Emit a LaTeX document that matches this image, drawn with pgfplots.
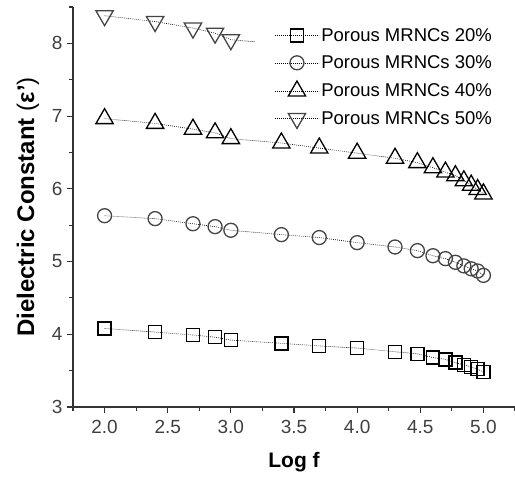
\documentclass[border=0pt]{standalone}
\usepackage{fontspec}
\setmainfont{Liberation Sans}
\usepackage{pgfplots}
\pgfplotsset{compat=1.18}
\definecolor{axisgray}{HTML}{333333}
\definecolor{ticktext}{HTML}{404040}
\definecolor{markgray}{HTML}{444444}

\begin{document}
\begin{tikzpicture}
\begin{axis}[
    name=ax,
    scale only axis,
    width=442pt, height=400pt,
    xmin=1.75, xmax=5.25,
    ymin=3, ymax=8.5,
    axis lines*=left,
    axis line style={axisgray, line width=1.2pt},
    tick align=outside,
    xtick={2.0,2.5,3.0,3.5,4.0,4.5,5.0},
    ytick={3,4,5,6,7,8},
    minor xtick={1.75,2.25,2.75,3.25,3.75,4.25,4.75,5.25},
    minor ytick={3.5,4.5,5.5,6.5,7.5,8.5},
    major tick length=6pt, minor tick length=4pt,
    every tick/.style={axisgray, line width=1.1pt},
    /pgf/number format/assume math mode=true,
    xticklabel style={/pgf/number format/.cd, fixed, fixed zerofill, precision=1, /tikz/yshift=-4pt},
    yticklabel style={xshift=-1pt},
    tick label style={font=\fontsize{19}{22}\selectfont, color=ticktext},
    xlabel={\bfseries Log f},
    ylabel={\bfseries Dielectric Constant {\mdseries(}ε'{\mdseries)}},
    x label style={font=\fontsize{21}{25}\selectfont, at={(axis description cs:0.5,0)}, yshift=-55pt, anchor=center},
    y label style={font=\fontsize{24}{28}\selectfont, at={(axis description cs:-0.102,0.5)}, anchor=center},
    legend style={at={(rel axis cs:0.998,0.9575)}, anchor=north east,
        draw=none, fill=white, inner xsep=20pt, inner ysep=2pt,
        font=\fontsize{18.5}{22}\selectfont, row sep=9pt},
    legend cell align=left,
    legend image code/.code={
        \draw[mark repeat=2,mark phase=2] plot coordinates {(0pt,0pt)(22pt,0pt)(44pt,0pt)};},
    every axis plot/.append style={black, line width=0.6pt, dash pattern=on 0.8pt off 1.2pt},
]
\addplot[mark=square, mark size=6.5pt, mark options={solid, black, fill=white, line width=1.3pt}] coordinates {
(2.0,4.08)(2.4,4.03)(2.7,3.99)(2.875,3.96)(3.0,3.92)(3.4,3.875)(3.7,3.84)(4.0,3.81)
(4.3,3.76)(4.477,3.73)(4.6,3.68)(4.699,3.655)(4.778,3.61)(4.845,3.58)(4.903,3.55)(4.954,3.52)(5.0,3.48)
};
\addlegendentry{Porous MRNCs 20\%}
\addplot[mark=o, mark size=7pt, mark options={solid, markgray, fill=white, line width=1.3pt}] coordinates {
(2.0,5.63)(2.4,5.59)(2.7,5.52)(2.875,5.48)(3.0,5.43)(3.4,5.37)(3.7,5.33)(4.0,5.26)
(4.3,5.20)(4.477,5.15)(4.6,5.08)(4.699,5.04)(4.778,4.99)(4.845,4.94)(4.903,4.90)(4.954,4.87)(5.0,4.81)
};
\addlegendentry{Porous MRNCs 30\%}
\addplot[mark=triangle, mark size=10pt, mark options={solid, black, fill=white, line width=1.3pt}] coordinates {
(2.0,6.965)(2.4,6.90)(2.7,6.82)(2.875,6.77)(3.0,6.69)(3.4,6.63)(3.7,6.56)(4.0,6.49)
(4.3,6.42)(4.477,6.36)(4.6,6.29)(4.699,6.23)(4.778,6.18)(4.845,6.11)(4.903,6.05)(4.954,5.99)(5.0,5.93)
};
\addlegendentry{Porous MRNCs 40\%}
\addplot[mark=triangle, mark size=10pt, mark options={solid, rotate=180, markgray, fill=white, line width=1.3pt}] coordinates {
(2.0,8.38)(2.4,8.30)(2.7,8.21)(2.875,8.14)(3.0,8.05)(3.4,7.99)
};
\addlegendentry{Porous MRNCs 50\%}
\end{axis}
\pgfresetboundingbox
\path[use as bounding box] ([xshift=-73pt,yshift=-70pt]ax.south west) rectangle ([yshift=7pt]ax.north east);
\end{tikzpicture}
\end{document}
